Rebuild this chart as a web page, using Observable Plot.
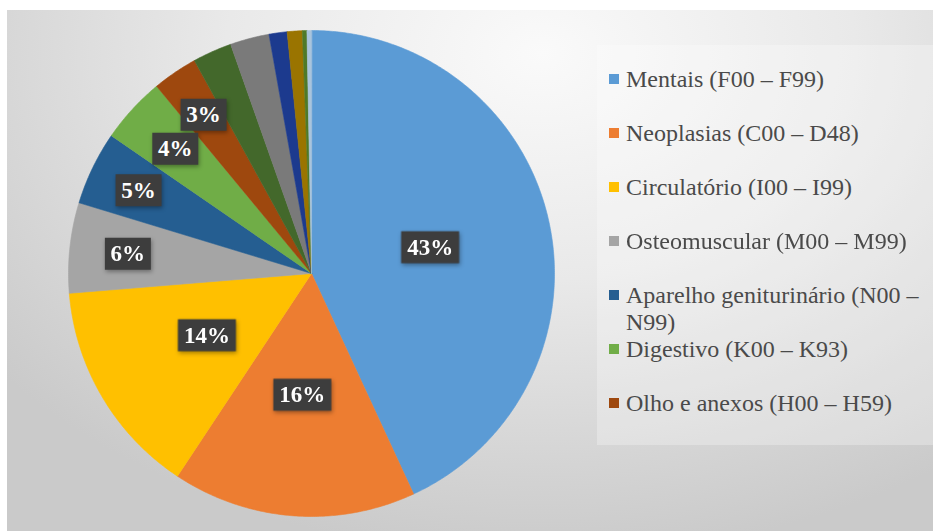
<!DOCTYPE html>
<html>
<head>
<meta charset="utf-8">
<script src="https://cdn.jsdelivr.net/npm/d3@7"></script>
<script src="https://cdn.jsdelivr.net/npm/@observablehq/plot@0.6"></script>
<style>
  body { margin: 0; background: #fff; }
  #wrap { position: relative; width: 933px; height: 531px; overflow: hidden; }
  #wrap svg g[aria-label="dot"] { filter: drop-shadow(1px 2px 2px rgba(0,0,0,0.35)); }
  #legendbox { position: absolute; left: 597px; top: 45px; width: 336px; height: 400px; background: rgba(255,255,255,0.28); }
  #legend { position: absolute; left: 609px; top: 66px; width: 324px; }
  #legend, #legend * { font-family: "Liberation Serif", "Tinos", "Times New Roman", "Noto Serif", "DejaVu Serif", serif !important; font-size: 24px !important; color: #4a4a4a !important; }
  #legend [class$="-columns"] { margin: 0 !important; }
  #legend [class$="-swatch"] { display: flex !important; align-items: flex-start !important; min-height: 54px; line-height: 27px; padding: 0 !important; }
  #legend [class$="-swatch"] > svg { margin: 8px 7px 0 0 !important; flex-shrink: 0; }
  #legend [class$="-label"] { white-space: normal !important; overflow: visible !important; text-overflow: clip !important; }
</style>
</head>
<body>
<div id="wrap"></div>
<script>
// ---- data ----
const categories = [
  "Mentais (F00 – F99)",
  "Neoplasias (C00 – D48)",
  "Circulatório (I00 – I99)",
  "Osteomuscular  (M00 – M99)",
  "Aparelho geniturinário (N00 – N99)",
  "Digestivo (K00 – K93)",
  "Olho e anexos (H00 – H59)",
  "Respiratório (J00 – J99)",
  "Lesões (S00 – T98)",
  "Nervoso (G00 – G99)",
  "Endócrino (E00 – E90)",
  "Pele (L00 – L99)",
  "Outros"
];
const values = [43.1, 16.2, 14.4, 6.0, 4.9, 4.4, 3.0, 2.6, 2.6, 1.2, 1.0, 0.3, 0.3];
const colors = ["#5B9BD5", "#ED7D31", "#FFC000", "#A5A5A5", "#255E91", "#70AD47", "#9E480E",
                "#43682B", "#7A7A7A", "#1C3A8E", "#9A7400", "#4F7A28", "#A9C4DC"];
const legendCategories = categories.slice(0, 7);

// ---- layout constants ----
const W = 933, H = 531, cx = 311, cy = 273, R = 243;
const serif = "'Liberation Serif', Tinos, 'Times New Roman', 'Noto Serif', 'DejaVu Serif', serif";

// ---- pie geometry ----
const total = d3.sum(values);
let acc = 0;
const slices = categories.map((c, i) => {
  const a0 = acc / total * 2 * Math.PI;
  acc += values[i];
  const a1 = acc / total * 2 * Math.PI;
  return {cat: c, value: values[i], a0, a1};
});
const pts = slices.flatMap(s => {
  const n = Math.max(2, Math.ceil((s.a1 - s.a0) / (Math.PI / 360)));
  const arr = [{cat: s.cat, x: 0, y: 0}];
  for (let k = 0; k <= n; k++) {
    const a = s.a0 + (s.a1 - s.a0) * k / n;
    arr.push({cat: s.cat, x: Math.sin(a), y: Math.cos(a)});
  }
  return arr;
});
const labels = slices.filter(s => legendCategories.includes(s.cat)).map((s, i) => {
  const m = (s.a0 + s.a1) / 2;
  const r = s.value >= 10 ? 0.5 : (i % 2 === 0 ? 0.79 : 0.76);
  return {x: r * Math.sin(m), y: r * Math.cos(m), text: Math.round(s.value) + "%"};
});

const box = (w, h) => ({draw(ctx) {
  ctx.moveTo(-w / 2, -h / 2); ctx.lineTo(w / 2, -h / 2); ctx.lineTo(w / 2, h / 2); ctx.lineTo(-w / 2, h / 2); ctx.closePath();
}});

const chart = Plot.plot({
  width: W, height: H, margin: 0,
  x: {domain: [-cx / R, (W - cx) / R], axis: null},
  y: {domain: [-(H - cy) / R, cy / R], axis: null},
  color: {domain: categories, range: colors},
  style: {
    background: "linear-gradient(#fff,#fff) 0 0/100% 10px no-repeat, linear-gradient(#fff,#fff) 0 0/7px 100% no-repeat, radial-gradient(ellipse 75% 95% at 58% 10%, #fafafa 0%, #e9e9e9 45%, #d5d5d5 80%, #cacaca 100%)",
    overflow: "visible"
  },
  marks: [
    Plot.line(pts, {x: "x", y: "y", z: "cat", fill: "cat", stroke: "cat", strokeWidth: 0.6, curve: "linear-closed"}),
    Plot.dot(labels.filter(d => d.text.length >= 3), {x: "x", y: "y", symbol: box(58, 32), r: 8, fill: "#3d3d3d", stroke: null}),
    Plot.dot(labels.filter(d => d.text.length < 3), {x: "x", y: "y", symbol: box(46, 32), r: 8, fill: "#3d3d3d", stroke: null}),
    Plot.text(labels, {x: "x", y: "y", text: "text", fill: "white", fontSize: 23, fontWeight: "bold", fontFamily: serif})
  ]
});
const wrap = document.getElementById("wrap");
wrap.appendChild(chart);

const lb = document.createElement("div");
lb.id = "legendbox";
wrap.appendChild(lb);

const legend = Plot.legend({
  color: {type: "ordinal", domain: legendCategories, range: colors.slice(0, legendCategories.length)},
  legend: "swatches",
  columns: 1,
  swatchSize: 10,
  className: "lg"
});
const ld = document.createElement("div");
ld.id = "legend";
ld.appendChild(legend);
wrap.appendChild(ld);
</script>
</body>
</html>
